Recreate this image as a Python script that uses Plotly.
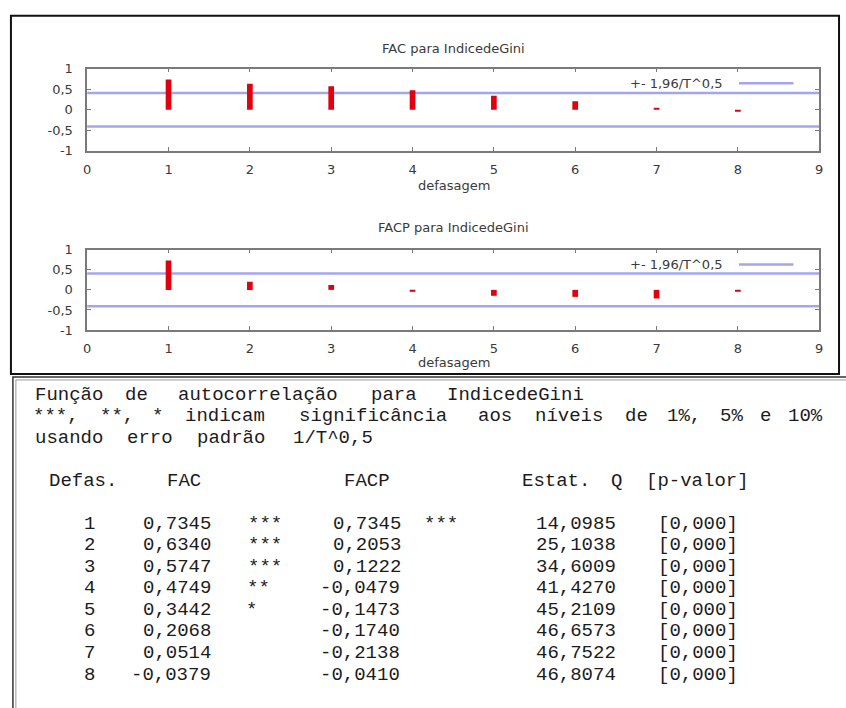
import re
import plotly.graph_objects as go

# ---------------- data ----------------
lags = [1, 2, 3, 4, 5, 6, 7, 8]
fac = [0.7345, 0.6340, 0.5747, 0.4749, 0.3442, 0.2068, 0.0514, -0.0379]
fac_sig = ["***", "***", "***", "**", "*", "", "", ""]
facp = [0.7345, 0.2053, 0.1222, -0.0479, -0.1473, -0.1740, -0.2138, -0.0410]
facp_sig = ["***", "", "", "", "", "", "", ""]
q_stat = [14.0985, 25.1038, 34.6009, 41.4270, 45.2109, 46.6573, 46.7522, 46.8074]
p_val = [0.000, 0.000, 0.000, 0.000, 0.000, 0.000, 0.000, 0.000]
n_obs = 23
band = 1.96 / n_obs ** 0.5

x_tick_vals = [0, 1, 2, 3, 4, 5, 6, 7, 8, 9]
y_tick_vals = [-1, -0.5, 0, 0.5, 1]
y_tick_text = ["-1", "-0,5", "0", "0,5", "1"]

title_fac = "FAC para IndicedeGini"
title_facp = "FACP para IndicedeGini"
x_title = "defasagem"
legend_text = "+- 1,96/T^0,5"

header_lines = [
    "Função de autocorrelação para IndicedeGini",
    "***, **, * indicam significância aos níveis de 1%, 5% e 10%",
    "usando erro padrão 1/T^0,5",
    "",
    " Defas.   FAC          FACP         Estat. Q [p-valor]",
    "",
]

# ---------------- helpers ----------------
W, H = 846, 708


def px(x):
    return x / W


def py(y):
    return 1 - y / H


def c4(v):
    return f"{v:.4f}".replace(".", ",")


def c3(v):
    return f"{v:.3f}".replace(".", ",")


RED = "#e1000e"
BLUE = "#a3a6ee"
AXC = "#7a7a7a"
TXT = "#3a3a3a"
chart_font = dict(family="DejaVu Sans", size=13, color=TXT)

fig = go.Figure()

panels = [
    dict(vals=fac, title=title_fac, top=63, bot=147, xs="x", ys="y",
         title_y=42, xt_y=182),
    dict(vals=facp, title=title_facp, top=248, bot=330, xs="x2", ys="y2",
         title_y=225, xt_y=363),
]

shapes = []
annotations = []

for i, p in enumerate(panels):
    fig.add_trace(go.Bar(
        x=lags, y=p["vals"], width=0.07,
        marker=dict(color=RED, line=dict(width=0)),
        xaxis=p["xs"], yaxis=p["ys"], hoverinfo="x+y",
    ))
    sfx = "" if i == 0 else "2"
    xa = dict(
        domain=[px(84), px(823)], range=[0, 9], anchor="y" + sfx,
        tickmode="array", tickvals=x_tick_vals,
        ticks="inside", ticklen=4, tickwidth=1, tickcolor=AXC,
        showline=True, linecolor=AXC, linewidth=1.5, mirror="ticks",
        showgrid=False, zeroline=False, tickfont=chart_font,
        ticklabelstandoff=6, fixedrange=True,
    )
    ya = dict(
        domain=[py(p["bot"]), py(p["top"])], range=[-1, 1], anchor="x" + sfx,
        tickmode="array", tickvals=y_tick_vals, ticktext=y_tick_text,
        ticks="inside", ticklen=4, tickwidth=1, tickcolor=AXC,
        showline=True, linecolor=AXC, linewidth=1.5, mirror="ticks",
        showgrid=False, zeroline=False, tickfont=chart_font,
        ticklabelstandoff=10, fixedrange=True,
    )
    fig.update_layout({"xaxis" + sfx: xa, "yaxis" + sfx: ya})

    # confidence band lines
    for s in (1, -1):
        shapes.append(dict(
            type="line", xref=f"x{sfx} domain", yref="y" + sfx,
            x0=0, x1=1, y0=s * band, y1=s * band,
            line=dict(color=BLUE, width=2.5), layer="below",
        ))
    # legend (gnuplot style: text then sample)
    ly = p["top"] + 15
    annotations.append(dict(
        xref="paper", yref="paper", x=px(728), y=py(ly), text=legend_text,
        showarrow=False, xanchor="right", yanchor="middle", font=chart_font,
    ))
    shapes.append(dict(
        type="line", xref="paper", yref="paper",
        x0=px(742), x1=px(797), y0=py(ly), y1=py(ly),
        line=dict(color=BLUE, width=2.5),
    ))
    # titles
    annotations.append(dict(
        xref="paper", yref="paper", x=px(454), y=py(p["title_y"]),
        text=p["title"], showarrow=False, xanchor="center", yanchor="middle",
        font=chart_font,
    ))
    annotations.append(dict(
        xref="paper", yref="paper", x=px(454), y=py(p["xt_y"]),
        text=x_title, showarrow=False, xanchor="center", yanchor="middle",
        font=chart_font,
    ))

# ---------------- frames ----------------
shapes.append(dict(type="rect", xref="paper", yref="paper",
                   x0=px(7), x1=px(843), y0=py(9), y1=py(375),
                   line=dict(color="#111111", width=2)))
shapes.append(dict(type="rect", xref="paper", yref="paper",
                   x0=px(9), x1=px(860), y0=py(378), y1=py(720),
                   line=dict(color="#333333", width=1.5)))
shapes.append(dict(type="rect", xref="paper", yref="paper",
                   x0=px(12), x1=px(860), y0=py(381), y1=py(720),
                   line=dict(color="#9a9a9a", width=1)))

# ---------------- text table ----------------
rows = []
for k in range(len(lags)):
    rows.append(
        f"{lags[k]:5d}{c4(fac[k]):>9}  {fac_sig[k]:<3}{c4(facp[k]):>9} "
        f"{facp_sig[k]:<3}{c4(q_stat[k]):>12}  [{c3(p_val[k])}]"
    )
lines = header_lines + rows

x0, pitch = 25.0, 13.64
y0, lead = 396.0, 22.0
mono = dict(family="Liberation Mono", size=19, color="#1c1c1c")
for li, line in enumerate(lines):
    for m in re.finditer(r"\S+", line):
        tok = m.group()
        cx = x0 + (m.start() + len(tok) / 2) * pitch
        annotations.append(dict(
            xref="paper", yref="paper", x=px(cx), y=py(y0 + li * lead),
            text=tok, showarrow=False, xanchor="center", yanchor="middle",
            font=mono,
        ))

fig.update_layout(
    width=W, height=H, margin=dict(l=0, r=0, t=0, b=0),
    paper_bgcolor="white", plot_bgcolor="white",
    showlegend=False, shapes=shapes, annotations=annotations,
)

fig.write_html(
    "out.html",
    config={"displayModeBar": False, "staticPlot": False},
    post_script="document.body.style.margin='0';document.body.style.overflow='hidden';",
)
